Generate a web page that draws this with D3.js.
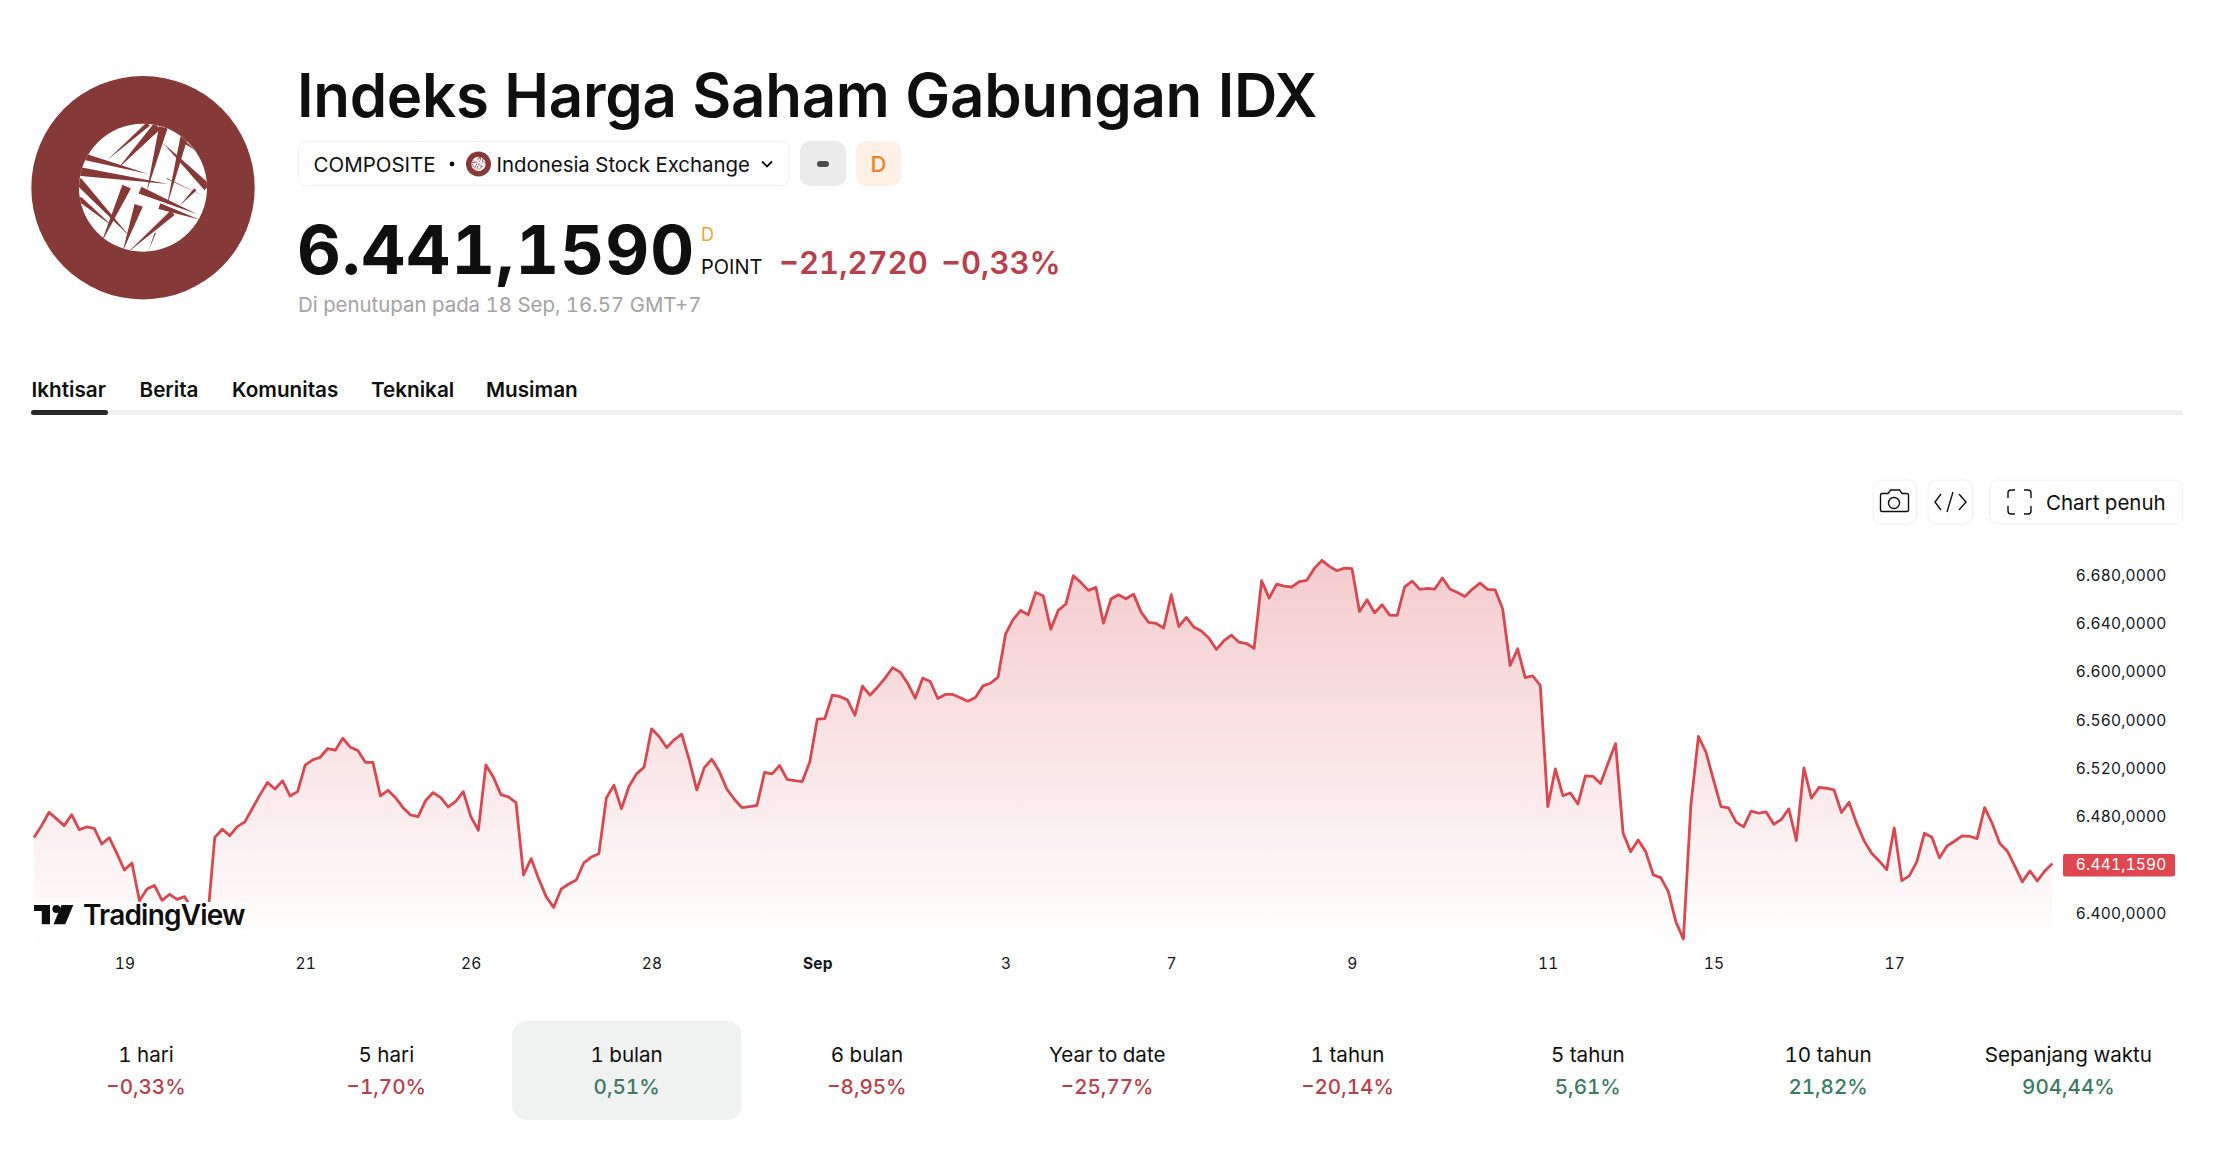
<!DOCTYPE html>
<html><head><meta charset="utf-8">
<script src="https://cdn.jsdelivr.net/npm/d3@7/dist/d3.min.js"></script>
<style>
html,body{margin:0;padding:0;background:#fff;overflow:hidden}
svg{display:block;font-family:Inter,"Noto Sans",sans-serif;font-variant-numeric:tabular-nums;font-feature-settings:"tnum" 1}
</style></head><body>
<svg id="c" width="2232" height="1156"></svg>
<script>
const closeValues = [
6462.7,6472.6,6483.7,6478.2,6472.6,6481.7,6469.3,6471.5,6470.4,6457.4,6462.7,6449.7,6435.9,6441.7,6410.4,6420.1,6423.1,6410.7,6415.7,6411.5,6413.8,6402.7,6399.9,6391.9,
6462.9,6469.6,6464.3,6471.8,6475.7,6487.0,6498.1,6508.3,6503.0,6509.7,6497.2,6500.8,6522.7,6527.1,6529.3,6536.5,6535.1,6545.0,6537.6,6534.8,6525.1,6525.1,6497.2,6501.9,6495.8,6487.5,6481.5,6480.1,6493.4,6500.0,6495.8,6488.1,6492.8,6500.8,6480.1,6468.8,6522.9,6512.7,6498.3,6496.4,6491.7,6431.7,6445.3,6428.7,6413.8,6404.9,
6420.1,6424.3,6427.6,6441.7,6446.6,6449.4,6495.6,6506.1,6486.7,6505.0,6515.5,6521.0,6552.8,6546.4,6537.3,6543.7,6548.4,6527.1,6502.2,6520.7,6527.6,6517.4,6502.8,6494.5,6487.5,6488.4,6489.5,6516.8,6515.5,6522.4,6511.0,6509.9,6509.1,6525.1,6560.8,6561.3,6580.7,6579.6,6576.8,6564.1,6588.2,6580.7,6587.3,6594.8,6603.4,6599.8,6590.6,6578.2,6594.8,6592.0,6577.9,6581.3,6581.3,6578.5,6575.7,6578.8,6588.4,6590.6,6595.6,6631.3,6643.2,6650.9,6647.3,6665.8,6663.1,6635.4,6650.9,6656.2,6679.6,6674.1,6667.5,6670.0,
6640.4,6660.3,6663.9,6660.6,6664.4,6649.5,6641.0,6640.1,6636.3,6663.9,6637.6,6645.1,6637.1,6633.8,6628.0,6618.6,6625.8,6630.4,6624.6,6623.5,6619.4,6675.5,6661.1,6672.7,6671.1,6670.3,6674.7,6675.8,6685.7,6692.4,6687.4,6683.8,6686.0,6685.5,6650.1,6659.7,6649.0,6655.6,6647.0,6646.8,6670.5,6675.2,6668.3,6669.1,6668.6,6677.7,6668.6,6665.8,6662.5,6668.6,6673.6,6668.3,6668.0,6652.3,6605.3,6619.1,6595.3,6596.7,6588.7,6488.4,6519.6,6497.5,6499.7,6490.6,6513.8,6513.5,6507.5,6524.3,6540.6,6466.3,6451.1,6460.7,
6451.1,6431.8,6429.6,6418.0,6393.1,6378.7,6489.8,6546.5,6533.5,6510.6,6488.4,6487.3,6475.5,6471.6,6484.6,6482.9,6484.0,6473.8,6477.7,6486.5,6460.3,6520.5,6495.4,6504.2,6503.6,6502.3,6483.5,6492.0,6474.6,6460.0,6449.7,6443.4,6436.2,6470.8,6427.1,6431.0,6442.8,6466.3,6463.0,6445.9,6455.8,6459.7,6464.1,6463.8,6461.9,6487.6,6474.6,6458.0,6451.7,6439.3,6426.0,6435.1,6426.8,6435.1,6441.16];
const xTickIndex = [12,36,58,82,104,129,151,175,201,223,247];
const xTickLabels = ["19","21","26","28","Sep","3","7","9","11","15","17"];
const yTicks = [6400,6480,6520,6560,6600,6640,6680];
const lastPrice = 6441.159;
const periods = ["1 hari","5 hari","1 bulan","6 bulan","Year to date","1 tahun","5 tahun","10 tahun","Sepanjang waktu"];
const periodChanges = [-0.33,-1.70,0.51,-8.95,-25.77,-20.14,5.61,21.82,904.44];
const tabs = ["Ikhtisar","Berita","Komunitas","Teknikal","Musiman"];
const tabX = [31.5,139.5,232,371,486];

const RED="#b83f4b",GREEN="#3c7a64",INK="#0f0f0f",LINE="#d9474f";
const svg=d3.select("#c");
const fmtY=v=>{const s=d3.format(",.4f")(v);return s.replace(/[.,]/g,c=>c==="."?",":".");};
const fmtPct=v=>(v<0?"\u2212":"")+Math.abs(v).toFixed(2).replace(".",",")+"%";
function txt(x,y,s,size,opt={}){
  return svg.append("text").attr("x",x).attr("y",y).text(s).attr("font-size",size)
   .attr("font-weight",opt.w||400).attr("fill",opt.c||INK).attr("text-anchor",opt.a||"start")
   .attr("letter-spacing",opt.ls||null);
}
function box(x0,y0,x1,y1,r,fill,stroke){
  return svg.append("rect").attr("x",x0).attr("y",y0).attr("width",x1-x0).attr("height",y1-y0).attr("rx",r)
   .attr("fill",fill).attr("stroke",stroke||"none");
}
/* exchange logo */
const streaks=[[445,222,322,330,14],[472,228,352,358,26],[490,232,440,425,26],[552,262,500,470,22],[245,318,445,372,20],[236,364,505,402,26],
[420,420,590,492,22],[478,468,598,508,18],[234,392,390,560,24],[238,446,340,530,16],[380,410,304,578,28],[416,466,368,604,26],[518,488,382,608,18],
[622,412,490,280,24],[548,272,588,302,10],[466,548,444,606,4],[500,385,618,442,3],[586,418,538,468,9]];
function logo(cx,cy,r,id){
  const g=svg.append("g").attr("transform",`translate(${cx},${cy}) scale(${r/335})`);
  g.append("circle").attr("r",335).attr("fill","#863a37");
  svg.append("clipPath").attr("id",id).append("circle").attr("r",192);
  g.append("circle").attr("r",192).attr("fill","#fff");
  const s=g.append("g").attr("clip-path",`url(#${id})`);
  streaks.forEach(([x0,y0,x1,y1,w])=>{
    const dx=x1-x0,dy=y1-y0,l=Math.hypot(dx,dy),nx=-dy/l*w/2,ny=dx/l*w/2,ox=-429,oy=-413;
    s.append("polygon").attr("fill","#863a37")
     .attr("points",[[x0+nx+ox,y0+ny+oy],[x0-nx+ox,y0-ny+oy],[x1+ox,y1+oy]].join(" "));
  });
}
logo(143,187.7,111.7,"lg1");
/* header */
txt(297,117,"Indeks Harga Saham Gabungan IDX",60,{w:600,ls:"-0.3"});
box(298.5,141.5,789,185.5,8,"#fff","#f0f0f0");
txt(313.5,171.5,"COMPOSITE",20.5);
svg.append("circle").attr("cx",452).attr("cy",164).attr("r",2.4).attr("fill",INK);
logo(478.5,164,12.5,"lg2");
txt(496.5,171.5,"Indonesia Stock Exchange",20.4);
svg.append("path").attr("d","M762 161.5l5 5 5-5").attr("fill","none").attr("stroke",INK).attr("stroke-width",1.8);
box(800,141,846,186,10,"#ebebeb");
box(817,161,829,167,3,"#4d4d4d");
box(856,141,901,186,10,"#fdf0e4");
txt(878.5,172,"D",22,{a:"middle",c:"#e8842c",w:500});
txt(297,274,"6.441,1590",68,{w:700,ls:"1"});
txt(701,241,"D",18,{c:"#eea43a"});
txt(701,274,"POINT",20);
txt(779,274,"\u221221,2720",31,{c:RED,w:600});
txt(941,274,"\u22120,33%",31,{c:RED,w:600});
txt(298,311.5,"Di penutupan pada 18 Sep, 16.57 GMT+7",20.4,{c:"#a3a3a3"});
/* tabs */
tabs.forEach((t,i)=>txt(tabX[i],397,t,20.7,{w:600}));
box(31,410,2183,415,2.5,"#f0f0f0");
box(31,410,108,415,2.5,"#2a2a2a");
/* toolbar */
box(1873,480,1916.5,524,8,"#fff","#f0f0f0");
box(1928,480,1972.5,524,8,"#fff","#f0f0f0");
box(1989.5,480,2182.5,524,8,"#fff","#f0f0f0");
svg.append("path").attr("d","M1882 493.5h6l2.5-3.5h9l2.5 3.5h5a1.5 1.5 0 0 1 1.5 1.5v15a1.5 1.5 0 0 1-1.5 1.5h-25a1.5 1.5 0 0 1-1.5-1.5v-15a1.5 1.5 0 0 1 1.5-1.5z").attr("fill","none").attr("stroke",INK).attr("stroke-width",1.4);
svg.append("circle").attr("cx",1894).attr("cy",503).attr("r",5.5).attr("fill","none").attr("stroke",INK).attr("stroke-width",1.4);
svg.append("path").attr("d","M1941 494l-6 8 6 8M1959 494l7 8-7 8M1953 492l-6 20").attr("fill","none").attr("stroke",INK).attr("stroke-width",1.4);
svg.append("path").attr("d","M2008 498v-5a3 3 0 0 1 3-3h4M2024 490h4a3 3 0 0 1 3 3v5M2031 506v5a3 3 0 0 1-3 3h-4M2015 514h-4a3 3 0 0 1-3-3v-5").attr("fill","none").attr("stroke",INK).attr("stroke-width",1.4);
txt(2046,510,"Chart penuh",20.5);
/* chart */
const x=d3.scaleLinear().domain([0,closeValues.length-1]).range([34,2052.4]);
const y=d3.scaleLinear().domain([6400,6680]).range([913.3,575.3]);
const defs=svg.append("defs");
const gr=defs.append("linearGradient").attr("id","af").attr("gradientUnits","userSpaceOnUse")
  .attr("x1",0).attr("x2",0).attr("y1",y(6692)).attr("y2",948);
gr.append("stop").attr("offset",0).attr("stop-color",LINE).attr("stop-opacity",.28);
gr.append("stop").attr("offset",1).attr("stop-color",LINE).attr("stop-opacity",0);
svg.append("path").datum(closeValues).attr("fill","url(#af)")
  .attr("d",d3.area().x((d,i)=>x(i)).y0(948).y1(d=>y(d)));
svg.append("path").datum(closeValues).attr("fill","none").attr("stroke",LINE).attr("stroke-width",2.8).attr("stroke-linejoin","round")
  .attr("d",d3.line().x((d,i)=>x(i)).y(d=>y(d)));
/* axes */
const ax=svg.append("g").attr("transform","translate(0,964)")
  .call(d3.axisBottom(x).tickValues(xTickIndex).tickSize(0).tickPadding(0).tickFormat((d,i)=>xTickLabels[i]));
ax.select(".domain").remove();
ax.selectAll("text").attr("font-family","Inter").attr("font-size",15.5).attr("fill","#131722").attr("dy","0.32em").attr("y",0)
  .attr("letter-spacing","0.2").attr("font-weight",(d,i)=>xTickLabels[i]==="Sep"?700:400);
const ay=svg.append("g").attr("transform","translate(2166.5,0)")
  .call(d3.axisLeft(y).tickValues(yTicks).tickSize(0).tickPadding(0).tickFormat(fmtY));
ay.select(".domain").remove();
ay.selectAll("text").attr("font-family","Inter").attr("font-size",15.5).attr("fill","#131722").attr("letter-spacing","0.2");
box(2063,854,2175,876.5,2,"#de474f");
txt(2166.5,y(lastPrice)+6,fmtY(lastPrice),15.5,{a:"end",c:"#fff",ls:"0.2"});
/* TradingView mark */
box(32,902,247,934,0,"#fff");
svg.append("path").attr("fill","#0f0f0f").attr("d","M34 905H50V924.3H41.8V911H34Z");
svg.append("circle").attr("cx",56.4).attr("cy",909).attr("r",4).attr("fill","#0f0f0f");
svg.append("path").attr("fill","#0f0f0f").attr("d","M61.5 905H73.3L65.3 924.3H53.5Z");
txt(83,925,"TradingView",28,{w:600,ls:"-0.8"});
/* performance row */
box(512,1020.5,741.5,1120,15,"#f0f1f1");
periods.forEach((p,i)=>{
  const cx=146+i*240.3;
  txt(cx,1061.5,p,20.6,{a:"middle"});
  txt(cx,1094,fmtPct(periodChanges[i]),20.6,{a:"middle",w:500,c:periodChanges[i]<0?RED:GREEN});
});
</script></body></html>
